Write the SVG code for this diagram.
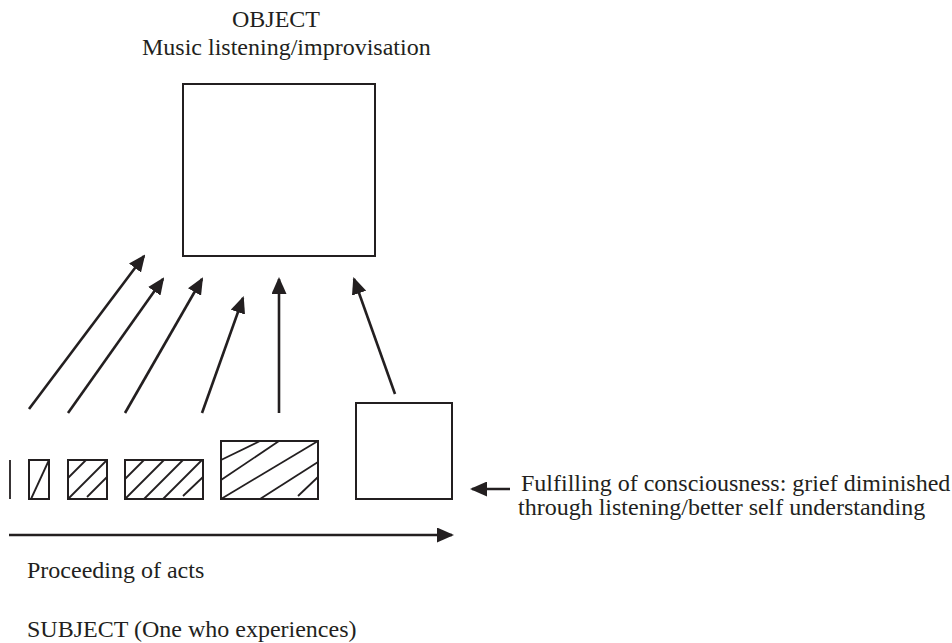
<svg xmlns="http://www.w3.org/2000/svg" width="952" height="643" viewBox="0 0 952 643">
<style>
text{font-family:"Liberation Serif","Times New Roman",serif;font-size:24px;fill:#231f20}
.box{fill:none;stroke:#231f20;stroke-width:2}
.hatch{fill:none;stroke:#231f20;stroke-width:1.8}
.arr{fill:none;stroke:#231f20;stroke-width:2.6;marker-end:url(#ah)}
</style>
<defs>
<marker id="ah" markerUnits="userSpaceOnUse" markerWidth="17" markerHeight="15" refX="15" refY="7.5" orient="auto">
<path d="M0,0 L17,7.5 L0,15 Z" fill="#231f20"/>
</marker>
</defs>
<rect width="952" height="643" fill="#fff"/>
<g id="object">
<rect class="box" x="183" y="84" width="192" height="172"/>
<text x="232" y="27">OBJECT</text>
<text x="142" y="55">Music listening/improvisation</text>
</g>
<g id="act0"><line class="hatch" x1="10" y1="460" x2="10" y2="499"/></g>
<g id="act1">
<rect class="box" x="29" y="460" width="20" height="39"/>
<line class="hatch" x1="31" y1="499" x2="49" y2="460"/>
</g>
<g id="act2">
<rect class="box" x="68" y="460" width="39" height="39"/>
<line class="hatch" x1="68" y1="478" x2="86" y2="460"/>
<line class="hatch" x1="68" y1="499" x2="107" y2="460"/>
<line class="hatch" x1="87" y1="497" x2="107" y2="477"/>
</g>
<g id="act3">
<rect class="box" x="125" y="460" width="78" height="39"/>
<line class="hatch" x1="125" y1="479" x2="144" y2="460"/>
<line class="hatch" x1="125" y1="499" x2="164" y2="460"/>
<line class="hatch" x1="144" y1="499" x2="183" y2="460"/>
<line class="hatch" x1="163" y1="499" x2="202" y2="460"/>
<line class="hatch" x1="183" y1="496" x2="203" y2="477"/>
</g>
<g id="act4">
<rect class="box" x="221" y="441" width="97" height="58"/>
<line class="hatch" x1="221" y1="460" x2="260" y2="441"/>
<line class="hatch" x1="221" y1="480" x2="279" y2="441"/>
<line class="hatch" x1="221" y1="499" x2="318" y2="441"/>
<line class="hatch" x1="260" y1="499" x2="318" y2="462"/>
<line class="hatch" x1="298" y1="496" x2="318" y2="477"/>
</g>
<g id="act5"><rect class="box" x="356" y="403" width="96" height="96"/></g>
<g id="connectors">
<line class="arr" x1="29" y1="409" x2="144" y2="256"/>
<line class="arr" x1="68" y1="413" x2="163" y2="279"/>
<line class="arr" x1="125" y1="413" x2="202" y2="279"/>
<line class="arr" x1="202" y1="413" x2="243" y2="298"/>
<line class="arr" x1="279" y1="413" x2="279" y2="279"/>
<line class="arr" x1="395" y1="394" x2="354" y2="279"/>
<line class="arr" x1="9" y1="535" x2="452" y2="535"/>
<line class="arr" x1="510" y1="489" x2="472" y2="489"/>
</g>
<g id="labels">
<text x="521" y="491">Fulfilling of consciousness: grief diminished</text>
<text x="518" y="515">through listening/better self understanding</text>
<text x="27" y="578">Proceeding of acts</text>
<text x="27" y="637">SUBJECT (One who experiences)</text>
</g>
</svg>
